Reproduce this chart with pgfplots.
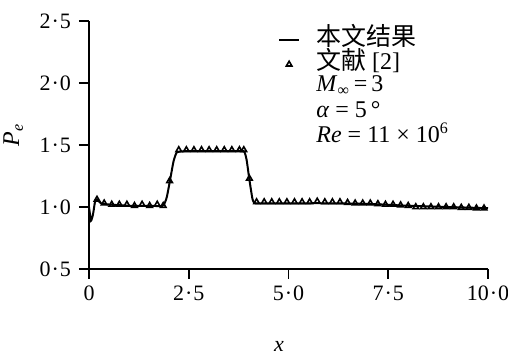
\documentclass[border=0pt]{standalone}
\usepackage{pgfplots}
\pgfplotsset{compat=1.18}
\usepackage{fontspec}
\setmainfont{Liberation Serif}
\newfontfamily\cjk{Noto Sans CJK SC}
\newcommand{\dt}{\kern0.5pt·\kern0.5pt}
\pgfplotsset{
  mylineleg/.style={legend image code/.code={\draw[##1] (0pt,0pt) -- (10pt,0pt); \path[draw=none,fill=none] (0pt,0pt) -- (18pt,0pt);}},
  mymarkleg/.style={legend image code/.code={\draw[##1, only marks] plot coordinates {(5pt,0pt)}; \path[draw=none,fill=none] (0pt,0pt) -- (18pt,0pt);}},
}
\begin{document}
\begin{tikzpicture}
\begin{axis}[
  scale only axis,
  width=199.5pt, height=124pt,
  at={(0,0)}, anchor=south west,
  xmin=0, xmax=10, ymin=0.5, ymax=2.5,
  axis lines=left,
  axis line style={line width=0.9pt, -},
  tick align=outside,
  major tick length=5pt,
  tick style={line width=0.8pt, black},
  xtick={0,2.5,5,7.5,10},
  xticklabels={0,2\dt 5,5\dt 0,7\dt 5,10\dt 0},
  ytick={0.5,1,1.5,2,2.5},
  yticklabels={0\dt 5,1\dt 0,1\dt 5,2\dt 0,2\dt 5},
  ticklabel style={font=\fontsize{11}{12}\selectfont},
  yticklabel shift=0.5pt,
  xlabel={\textit{x}},
  xlabel style={at={(axis description cs:0.476,0)}, anchor=center, yshift=-38.5pt, font=\fontsize{11}{12}\selectfont},
  ylabel={\textit{P}\textsubscript{\textit{e}}},
  ylabel style={at={(axis description cs:-0.19,0.54)}, anchor=center, font=\fontsize{12}{13}\selectfont},
  clip=false,
  legend cell align=left,
  legend style={draw=none, fill=none, at={(rel axis cs:0.474,0.97)}, anchor=north west,
    inner sep=0pt, outer sep=0pt, row sep=0pt,
    font=\fontsize{12}{13}\selectfont,
    nodes={text height=8pt, text depth=3pt, inner sep=0.5pt}},
]
\addplot[black, line width=1pt, smooth, tension=0.3, mylineleg] coordinates {
(0,1.0) (0.05,0.89) (0.1,0.94) (0.15,1.04) (0.2,1.06) (0.3,1.03) (0.5,1.02)
(1.0,1.01) (1.5,1.01) (1.85,1.01) (1.95,1.08) (2.05,1.25) (2.12,1.37)
(2.2,1.44) (2.4,1.45) (3.0,1.45) (3.6,1.45) (3.88,1.45) (3.95,1.38)
(4.02,1.22) (4.1,1.06) (4.17,1.03) (4.5,1.03) (5,1.03) (6,1.03)
(7,1.025) (8,1.01) (9,1.0) (10,0.99)
};
\addlegendentry{{\cjk\fontsize{12.5}{13}\selectfont 本文结果}}
\addplot[only marks, mark=triangle, mark size=1.6pt, mark options={line width=0.8pt, black}, mymarkleg] coordinates {
(0.2,1.06) (0.38,1.03) (0.57,1.02) (0.76,1.02) (0.95,1.02) (1.14,1.01)
(1.33,1.02) (1.52,1.01) (1.71,1.02) (1.86,1.01) (2.02,1.21)
(2.25,1.46) (2.44,1.46) (2.63,1.46) (2.82,1.46) (3.01,1.46) (3.2,1.46)
(3.39,1.46) (3.58,1.46) (3.77,1.46) (3.88,1.46) (4.02,1.23)
(4.2,1.04) (4.39,1.04) (4.58,1.04) (4.77,1.04) (4.96,1.04) (5.15,1.04)
(5.34,1.04) (5.53,1.04) (5.72,1.045) (5.91,1.04) (6.1,1.04) (6.29,1.04)
(6.48,1.035) (6.67,1.03) (6.86,1.03) (7.05,1.03) (7.24,1.025) (7.43,1.02)
(7.62,1.02) (7.81,1.015) (8.0,1.01) (8.19,1.0) (8.38,1.0) (8.57,1.0)
(8.76,1.0) (8.95,1.0) (9.14,1.0) (9.33,0.995) (9.52,0.995) (9.71,0.99)
(9.9,0.99)
};
\addlegendentry{{\cjk\fontsize{12.5}{13}\selectfont 文献} [2]}
\node[anchor=base west, inner sep=0pt, font=\fontsize{12}{13}\selectfont] at (rel axis cs:0.569,0.716) {\textit{M}\textsubscript{∞}\,=\,3};
\node[anchor=base west, inner sep=0pt, font=\fontsize{12}{13}\selectfont] at (rel axis cs:0.569,0.609) {\textit{α} = 5\,°};
\node[anchor=base west, inner sep=0pt, font=\fontsize{12}{13}\selectfont] at (rel axis cs:0.569,0.512) {\textit{Re} = 11 × 10\textsuperscript{6}};
\end{axis}
\pgfresetboundingbox
\useasboundingbox (-44.5pt,-43.5pt) rectangle (209.5pt,134.5pt);
\end{tikzpicture}
\end{document}
